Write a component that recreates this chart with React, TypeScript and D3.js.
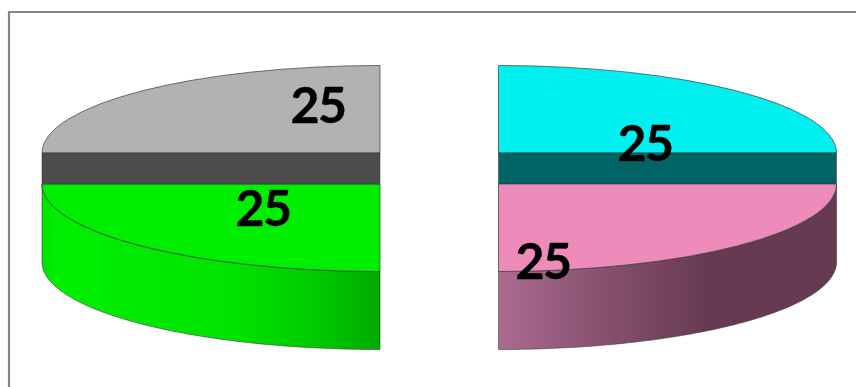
import React from "react";
import * as d3 from "d3";

const categories = ["Cyan", "Pink", "Green", "Grey"];
const values = [25, 25, 25, 25];
const topColors = ["#00efef", "#ef8bba", "#00ef00", "#b2b2b2"];
const cutColors = ["#006464", "", "", "#4d4d4d"];
const labelX = [645, 543, 263, 318];
const labelY = [142, 260, 207, 104];

const W = 856;
const H = 387;
const RX = 338;
const RY = 87.5;
const DEPTH = 78;
const UPPER_Y = 153;
const LOWER_Y = 184;
const LEFT_CX = 380;
const RIGHT_CX = 498.5;

const pie = d3.pie<number>().sort(null)(values);
const unitArc = d3.arc<d3.PieArcDatum<number>>().innerRadius(0).outerRadius(1);

const centerOf = (mid: number) => ({
  cx: mid < Math.PI ? RIGHT_CX : LEFT_CX,
  cy: mid < Math.PI / 2 || mid > (3 * Math.PI) / 2 ? UPPER_Y : LOWER_Y,
});

const wall = (a0: number, a1: number, cx: number, cy: number) => {
  const angle = d3.scaleLinear().domain([0, 96]).range([a0, a1]);
  return d3
    .area<number>()
    .x((i) => cx + RX * Math.sin(angle(i)))
    .y0((i) => cy - RY * Math.cos(angle(i)))
    .y1((i) => cy - RY * Math.cos(angle(i)) + DEPTH)(d3.range(0, 97));
};

export default function App() {
  return (
    <svg
      width={W}
      height={H}
      viewBox={`0 0 ${W} ${H}`}
      style={{ position: "fixed", left: 0, top: 0, display: "block", background: "#fff" }}
    >
      <defs>
        <linearGradient id="greenSide" gradientUnits="userSpaceOnUse" x1={42} x2={380} y1={0} y2={0}>
          <stop offset="0" stopColor="#00e000" />
          <stop offset="0.04" stopColor="#00ef00" />
          <stop offset="0.55" stopColor="#00e400" />
          <stop offset="0.8" stopColor="#00cc00" />
          <stop offset="1" stopColor="#00aa00" />
        </linearGradient>
        <linearGradient id="pinkSide" gradientUnits="userSpaceOnUse" x1={498.5} x2={836} y1={0} y2={0}>
          <stop offset="0" stopColor="#ab6b90" />
          <stop offset="0.3" stopColor="#885270" />
          <stop offset="0.62" stopColor="#663a50" />
          <stop offset="1" stopColor="#663a50" />
        </linearGradient>
      </defs>

      <path d={`M9,${H} V12 H${W}`} fill="none" stroke="#868686" strokeWidth={2.2} />

      {pie.map((d, i) => {
        const mid = (d.startAngle + d.endAngle) / 2;
        const { cx, cy } = centerOf(mid);
        const isLower = cy === LOWER_Y;
        const x0 = mid < Math.PI ? cx : cx - RX;
        return (
          <g key={categories[i]}>
            {isLower && (
              <path
                d={wall(d.startAngle, d.endAngle, cx, cy) ?? ""}
                fill={i === 1 ? "url(#pinkSide)" : "url(#greenSide)"}
                stroke="#3a3a3a"
                strokeWidth={0.6}
              />
            )}
            <path
              d={unitArc(d) ?? ""}
              transform={`translate(${cx},${cy}) scale(${RX},${RY})`}
              fill={topColors[i]}
              stroke="#3a3a3a"
              strokeWidth={0.7}
              vectorEffect="non-scaling-stroke"
            />
            {!isLower && (
              <rect
                x={x0}
                y={UPPER_Y}
                width={RX}
                height={LOWER_Y - UPPER_Y}
                fill={cutColors[i]}
                stroke="#333"
                strokeWidth={0.5}
              />
            )}
          </g>
        );
      })}

      {pie.map((d, i) => (
        <text
          key={categories[i]}
          x={labelX[i]}
          y={labelY[i]}
          textAnchor="middle"
          dominantBaseline="central"
          fontFamily="Lato, 'Open Sans', sans-serif"
          fontWeight={700}
          fontSize={50}
          letterSpacing={-1.5}
          stroke="#000"
          strokeWidth={0.4}
          fill="#000"
        >
          {d.value}
        </text>
      ))}
    </svg>
  );
}
